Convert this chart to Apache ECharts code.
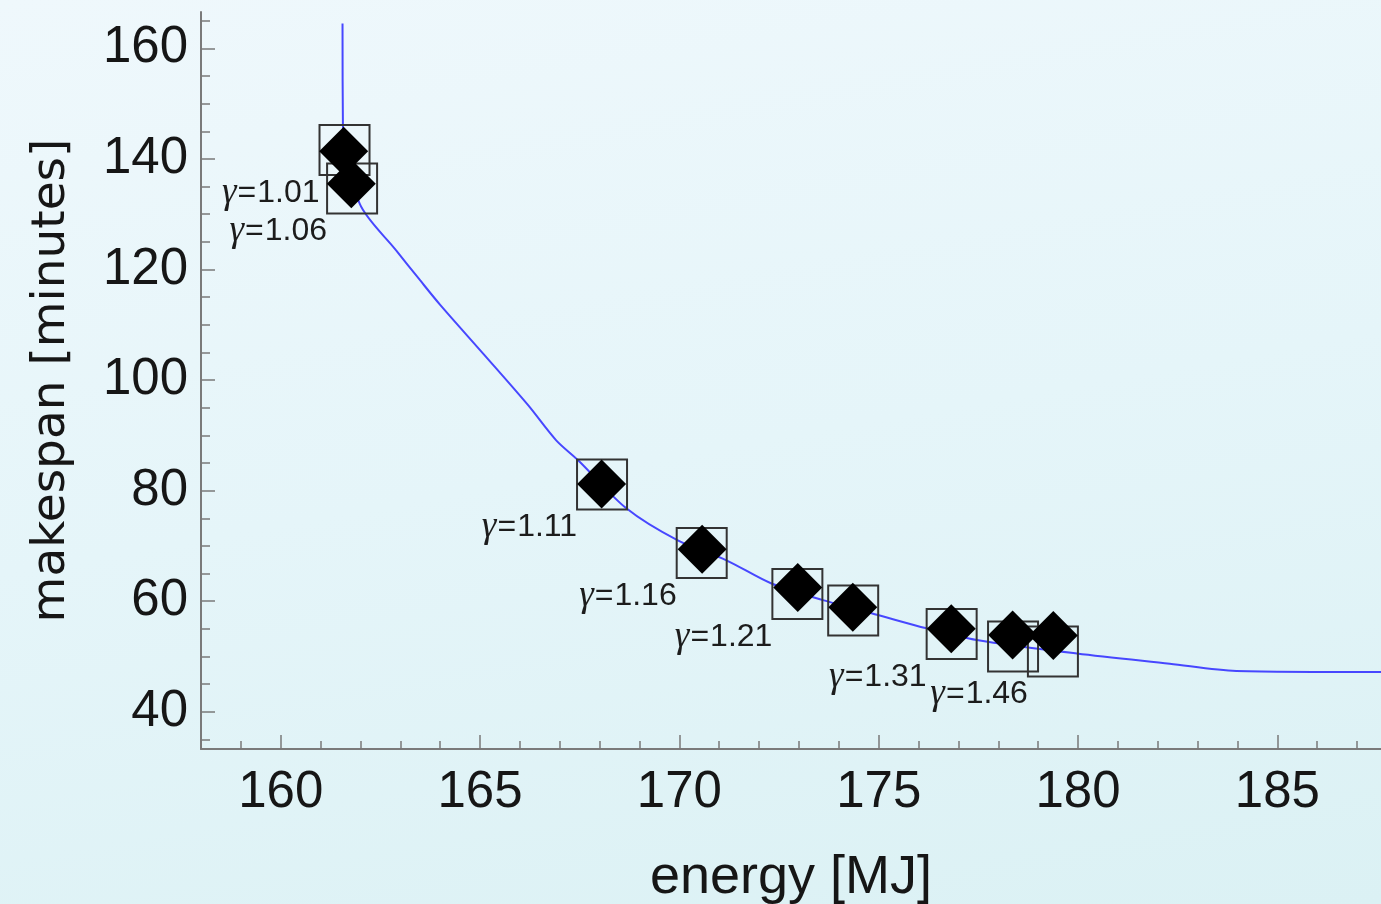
<!DOCTYPE html>
<html>
<head>
<meta charset="utf-8">
<script src="https://cdn.jsdelivr.net/npm/echarts@6/dist/echarts.min.js"></script>
<style>
html,body{margin:0;padding:0;width:1381px;height:904px;overflow:hidden;
background:linear-gradient(170deg,#eff8fc 0%,#e5f5f9 50%,#dbf1f4 100%);}
#chart{width:1381px;height:904px;}
</style>
</head>
<body>
<div id="chart"></div>
<script>
// ---- data ----
const energyBox      = [161.60, 161.79, 168.06, 170.56, 172.96, 174.36, 176.83, 178.37, 179.37];
const makespanBox    = [141.6, 134.65, 81.13, 68.73, 61.32, 58.31, 54.08, 51.82, 50.92];
const energyDiamond  = [161.58, 161.77, 168.05, 170.57, 172.97, 174.35, 176.82, 178.36, 179.38];
const makespanDiamond= [141.4, 135.5, 81.2, 69.4, 62.5, 58.9, 55.0, 53.9, 53.8];
const gammaLabels    = ['1.01', '1.06', '1.11', '1.16', '1.21', '', '1.31', '', '1.46'];

const energyCurve   = [161.55, 161.56, 161.98, 162.89, 163.49, 164.0, 165.1, 166.2, 166.91, 167.46, 168.67, 169.96, 171.18, 172.31, 173.6, 174.98, 176.2, 177.46, 179.97, 182.3, 183.97, 187.6];
const makespanCurve = [164.5, 146.1, 131.9, 123.5, 118.1, 113.6, 104.6, 95.5, 89.1, 85.5, 76.8, 71.0, 67.4, 63.2, 60.2, 57.5, 55.1, 53.0, 50.54, 48.7, 47.4, 47.2];

const xMajorTicks = [160, 165, 170, 175, 180, 185];
const xMinorTicks = [158, 159, 161, 162, 163, 164, 166, 167, 168, 169, 171, 172, 173, 174, 176, 177, 178, 179, 181, 182, 183, 184, 186, 187];
const yMajorTicks = [40, 60, 80, 100, 120, 140, 160];
const yMinorTicks = [35, 45, 50, 55, 65, 70, 75, 85, 90, 95, 105, 110, 115, 125, 130, 135, 145, 150, 155, 165];

const xTitle = 'energy [MJ]';
const yTitle = 'makespan [minutes]';

// ---- chart ----
const X_MIN = 158, X_MAX = 187.6, Y_MIN = 33.27, Y_MAX = 166.57;
const axisGray = '#7a7a7a';
const gridRect = {left: 201, right: 0, top: 12, bottom: 155, outerBoundsMode: 'none', containLabel: false};

const zip = (a, b) => a.map((v, i) => [v, b[i]]);

const chart = echarts.init(document.getElementById('chart'), null, {renderer: 'canvas'});
chart.setOption({
  animation: false,
  backgroundColor: 'transparent',
  grid: [Object.assign({}, gridRect), Object.assign({}, gridRect)],
  xAxis: [
    {
      type: 'value', gridIndex: 0, min: X_MIN, max: X_MAX, position: 'bottom',
      axisLine: {show: true, onZero: false, lineStyle: {color: axisGray, width: 2}},
      axisTick: {show: true, inside: true, length: 14, customValues: xMajorTicks, lineStyle: {color: axisGray, width: 1.5}},
      axisLabel: {show: true, customValues: xMajorTicks, margin: 18, fontSize: 51,
                  fontFamily: 'Liberation Sans', color: '#161616'},
      splitLine: {show: false},
      name: xTitle, nameLocation: 'middle', nameGap: 102,
      nameTextStyle: {fontSize: 54, fontFamily: 'Liberation Sans', color: '#161616'}
    },
    {
      type: 'value', gridIndex: 1, min: X_MIN, max: X_MAX, position: 'bottom',
      axisLine: {show: false, onZero: false},
      axisTick: {show: true, inside: true, length: 8, customValues: xMinorTicks, lineStyle: {color: axisGray, width: 1.5}},
      axisLabel: {show: false}, splitLine: {show: false}
    }
  ],
  yAxis: [
    {
      type: 'value', gridIndex: 0, min: Y_MIN, max: Y_MAX, position: 'left',
      axisLine: {show: true, onZero: false, lineStyle: {color: axisGray, width: 2}},
      axisTick: {show: true, inside: true, length: 14, customValues: yMajorTicks, lineStyle: {color: axisGray, width: 1.5}},
      axisLabel: {show: true, customValues: yMajorTicks, margin: 13, fontSize: 51,
                  fontFamily: 'Liberation Sans', color: '#161616'},
      splitLine: {show: false},
      name: yTitle, nameLocation: 'middle', nameGap: 126, nameRotate: 90,
      nameTextStyle: {fontSize: 47, fontFamily: 'DejaVu Sans', color: '#161616'}
    },
    {
      type: 'value', gridIndex: 1, min: Y_MIN, max: Y_MAX, position: 'left',
      axisLine: {show: false, onZero: false},
      axisTick: {show: true, inside: true, length: 9, customValues: yMinorTicks, lineStyle: {color: axisGray, width: 1.5}},
      axisLabel: {show: false}, splitLine: {show: false}
    }
  ],
  series: [
    {
      type: 'line', xAxisIndex: 0, yAxisIndex: 0, silent: true,
      data: zip(energyCurve, makespanCurve),
      showSymbol: false, smooth: 0.3,
      lineStyle: {color: '#4747ff', width: 2}, z: 1
    },
    {
      type: 'scatter', xAxisIndex: 0, yAxisIndex: 0, silent: true,
      data: zip(energyBox, makespanBox),
      symbol: 'rect', symbolSize: 50,
      itemStyle: {color: 'rgba(0,0,0,0)', borderColor: '#333', borderWidth: 2, opacity: 1},
      label: {
        show: true, position: 'inside', offset: [-25, 43], align: 'right', verticalAlign: 'middle',
        formatter: (p) => gammaLabels[p.dataIndex] ? '{g|γ}{e|=}{n|' + gammaLabels[p.dataIndex] + '}' : '',
        rich: {
          g: {fontFamily: 'Liberation Serif', fontStyle: 'italic', fontSize: 37, color: '#1c1c1c'},
          e: {fontFamily: 'Liberation Sans', fontSize: 32, color: '#1c1c1c', padding: [0, 1, 0, 1]},
          n: {fontFamily: 'Liberation Sans', fontSize: 32, color: '#1c1c1c'}
        }
      },
      z: 2
    },
    {
      type: 'scatter', xAxisIndex: 0, yAxisIndex: 0, silent: true,
      data: zip(energyDiamond, makespanDiamond),
      symbol: 'diamond', symbolSize: 49,
      itemStyle: {color: '#000', opacity: 1}, z: 3
    }
  ]
});
</script>
</body>
</html>
